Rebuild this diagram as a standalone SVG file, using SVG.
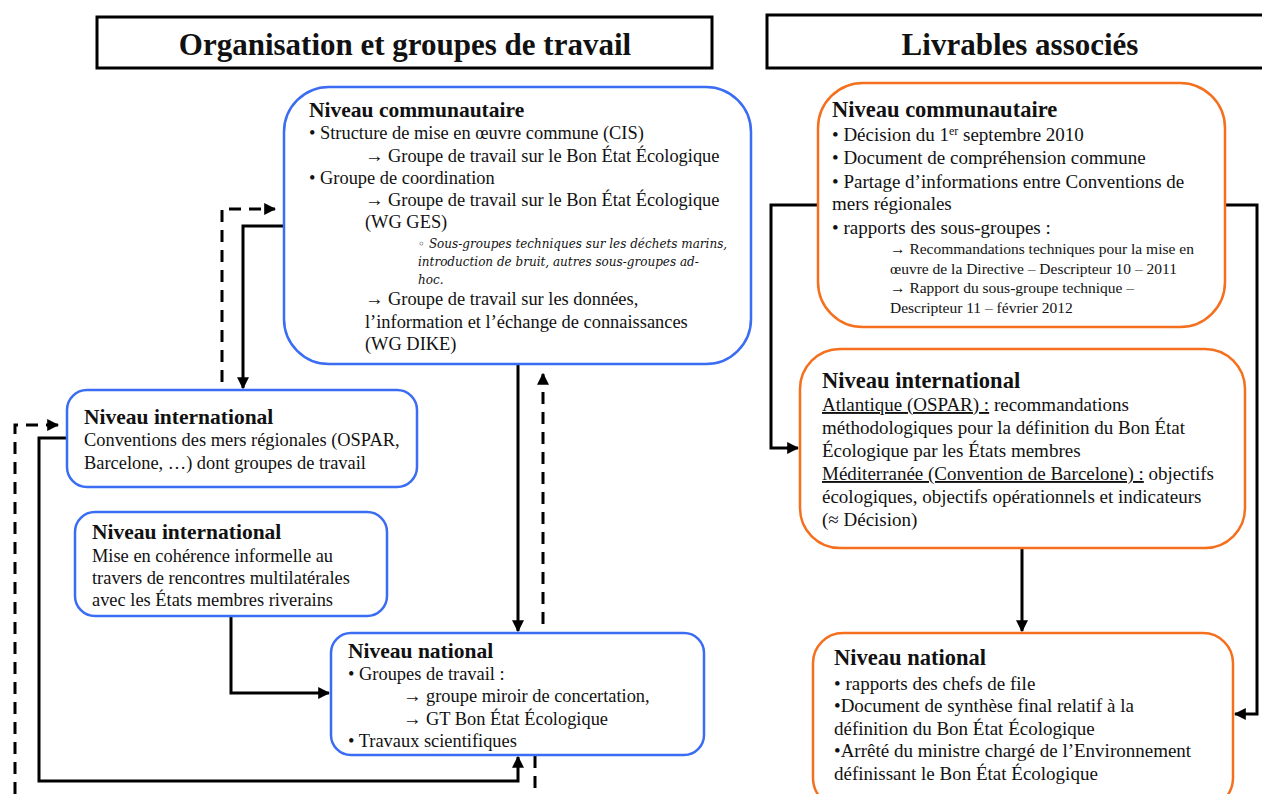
<svg xmlns="http://www.w3.org/2000/svg" width="1262" height="794" viewBox="0 0 1262 794">
  <style>
    text { font-family: "Liberation Serif", "Times New Roman", serif; fill: #111; }
    .hdr { font-size: 31px; font-weight: bold; text-anchor: middle; }
    .hbox { fill: #fff; stroke: #000; stroke-width: 3; }
    .blue { fill: #fff; stroke: #3a6cf4; stroke-width: 2.5; }
    .orange { fill: #fff; stroke: #f5701e; stroke-width: 2.5; }
    .ttl { font-size: 21.5px; font-weight: bold; }
    .ttl-r { font-size: 22.5px; font-weight: bold; }
    .body { font-size: 18.4px; }
    .body-r { font-size: 19px; }
    .small { font-size: 15.5px; }
    .ital { font-size: 12px; font-style: italic; font-family: "DejaVu Serif", "Liberation Serif", serif; }
    .u { text-decoration: underline; }
    .solid { fill: none; stroke: #000; stroke-width: 3; }
    .dash { fill: none; stroke: #000; stroke-width: 3; stroke-dasharray: 12 8; }
  </style>
  <defs>
    <marker id="arrow" viewBox="0 0 10 10" refX="9" refY="5" markerWidth="4" markerHeight="4" orient="auto" markerUnits="strokeWidth">
      <path d="M0,0 L10,5 L0,10 z" fill="#000"/>
    </marker>
  </defs>

  <rect width="1262" height="794" fill="#fff"/>

  <!-- column headers -->
  <g id="header-organisation">
    <rect class="hbox" x="97" y="17" width="615" height="51"/>
    <text class="hdr" x="405" y="55">Organisation et groupes de travail</text>
  </g>
  <g id="header-livrables">
    <rect class="hbox" x="767" y="15" width="500" height="53"/>
    <text class="hdr" x="1020" y="55">Livrables associés</text>
  </g>

  <!-- connectors -->
  <g id="connectors">
    <!-- organisation column -->
    <polyline class="dash" points="222,382 222,209 275,209" marker-end="url(#arrow)"/>
    <polyline class="solid" points="284,226 243,226 243,388" marker-end="url(#arrow)"/>
    <polyline class="dash" points="15,794 15,425 58,425" marker-end="url(#arrow)"/>
    <polyline class="solid" points="67,438 39,438 39,781 518,781 518,757" marker-end="url(#arrow)"/>
    <polyline class="solid" points="231,617 231,693 329,693" marker-end="url(#arrow)"/>
    <line class="solid" x1="518" y1="365" x2="518" y2="631" marker-end="url(#arrow)"/>
    <line class="dash" x1="543" y1="624" x2="543" y2="374" marker-end="url(#arrow)"/>
    <line class="dash" x1="535" y1="756" x2="535" y2="794"/>
    <!-- livrables column -->
    <polyline class="solid" points="818,205 771,205 771,448 798,448" marker-end="url(#arrow)"/>
    <polyline class="solid" points="1225,205 1257,205 1257,714 1235,714" marker-end="url(#arrow)"/>
    <line class="solid" x1="1022" y1="549" x2="1022" y2="631" marker-end="url(#arrow)"/>
  </g>

  <!-- organisation: community level -->
  <g id="org-communautaire">
    <rect class="blue" x="284" y="87" width="467" height="277" rx="45"/>
    <text class="ttl" x="309" y="117">Niveau communautaire</text>
    <text class="body" x="309" y="139">• Structure de mise en œuvre commune (CIS)</text>
    <text class="body" x="365" y="162">→ Groupe de travail sur le Bon État Écologique</text>
    <text class="body" x="309" y="184">• Groupe de coordination</text>
    <text class="body" x="365" y="206">→ Groupe de travail sur le Bon État Écologique</text>
    <text class="body" x="365" y="228">(WG GES)</text>
    <text class="ital" x="418" y="248">◦ Sous-groupes techniques sur les déchets marins,</text>
    <text class="ital" x="418" y="266">introduction de bruit, autres sous-groupes ad-</text>
    <text class="ital" x="418" y="284">hoc.</text>
    <text class="body" x="365" y="305">→ Groupe de travail sur les données,</text>
    <text class="body" x="365" y="328">l’information et l’échange de connaissances</text>
    <text class="body" x="365" y="350">(WG DIKE)</text>
  </g>

  <!-- organisation: international level (regional sea conventions) -->
  <g id="org-international-conventions">
    <rect class="blue" x="67" y="390" width="350" height="97" rx="20"/>
    <text class="ttl" x="84" y="424">Niveau international</text>
    <text class="body" x="84" y="446">Conventions des mers régionales (OSPAR,</text>
    <text class="body" x="84" y="469">Barcelone, …) dont groupes de travail</text>
  </g>

  <!-- organisation: international level (multilateral meetings) -->
  <g id="org-international-rencontres">
    <rect class="blue" x="75" y="512" width="312" height="104" rx="20"/>
    <text class="ttl" x="92" y="539">Niveau international</text>
    <text class="body" x="92" y="562">Mise en cohérence informelle au</text>
    <text class="body" x="92" y="584">travers de rencontres multilatérales</text>
    <text class="body" x="92" y="606">avec les États membres riverains</text>
  </g>

  <!-- organisation: national level -->
  <g id="org-national">
    <rect class="blue" x="331" y="633" width="373" height="122" rx="20"/>
    <text class="ttl" x="348" y="658">Niveau national</text>
    <text class="body" x="348" y="680">• Groupes de travail :</text>
    <text class="body" x="403" y="702">→ groupe miroir de concertation,</text>
    <text class="body" x="403" y="725">→ GT Bon État Écologique</text>
    <text class="body" x="348" y="747">• Travaux scientifiques</text>
  </g>

  <!-- deliverables: community level -->
  <g id="liv-communautaire">
    <rect class="orange" x="818" y="83" width="407" height="244" rx="45"/>
    <text class="ttl-r" x="832" y="117">Niveau communautaire</text>
    <text class="body-r" x="832" y="141">• Décision du 1<tspan font-size="12" dy="-6">er</tspan><tspan dy="6"> septembre 2010</tspan></text>
    <text class="body-r" x="832" y="164">• Document de compréhension commune</text>
    <text class="body-r" x="832" y="188">• Partage d’informations entre Conventions de</text>
    <text class="body-r" x="832" y="210">mers régionales</text>
    <text class="body-r" x="832" y="234">• rapports des sous-groupes :</text>
    <text class="small" x="890" y="254">→ Recommandations techniques pour la mise en</text>
    <text class="small" x="890" y="274">œuvre de la Directive – Descripteur 10 – 2011</text>
    <text class="small" x="890" y="293">→ Rapport du sous-groupe technique –</text>
    <text class="small" x="890" y="313">Descripteur 11 – février 2012</text>
  </g>

  <!-- deliverables: international level -->
  <g id="liv-international">
    <rect class="orange" x="800" y="349" width="445" height="199" rx="40"/>
    <text class="ttl-r" x="822" y="388">Niveau international</text>
    <text class="body-r" x="822" y="411"><tspan class="u">Atlantique (OSPAR) :</tspan> recommandations</text>
    <text class="body-r" x="822" y="434">méthodologiques pour la définition du Bon État</text>
    <text class="body-r" x="822" y="457">Écologique par les États membres</text>
    <text class="body-r" x="822" y="480"><tspan class="u">Méditerranée (Convention de Barcelone) :</tspan> objectifs</text>
    <text class="body-r" x="822" y="503">écologiques, objectifs opérationnels et indicateurs</text>
    <text class="body-r" x="822" y="526">(≈ Décision)</text>
  </g>

  <!-- deliverables: national level -->
  <g id="liv-national">
    <rect class="orange" x="813" y="633" width="420" height="175" rx="30"/>
    <text class="ttl-r" x="834" y="665">Niveau national</text>
    <text class="body-r" x="834" y="690">• rapports des chefs de file</text>
    <text class="body-r" x="834" y="712">•Document de synthèse final relatif à la</text>
    <text class="body-r" x="834" y="735">définition du Bon État Écologique</text>
    <text class="body-r" x="834" y="757">•Arrêté du ministre chargé de l’Environnement</text>
    <text class="body-r" x="834" y="780">définissant le Bon État Écologique</text>
  </g>
</svg>
